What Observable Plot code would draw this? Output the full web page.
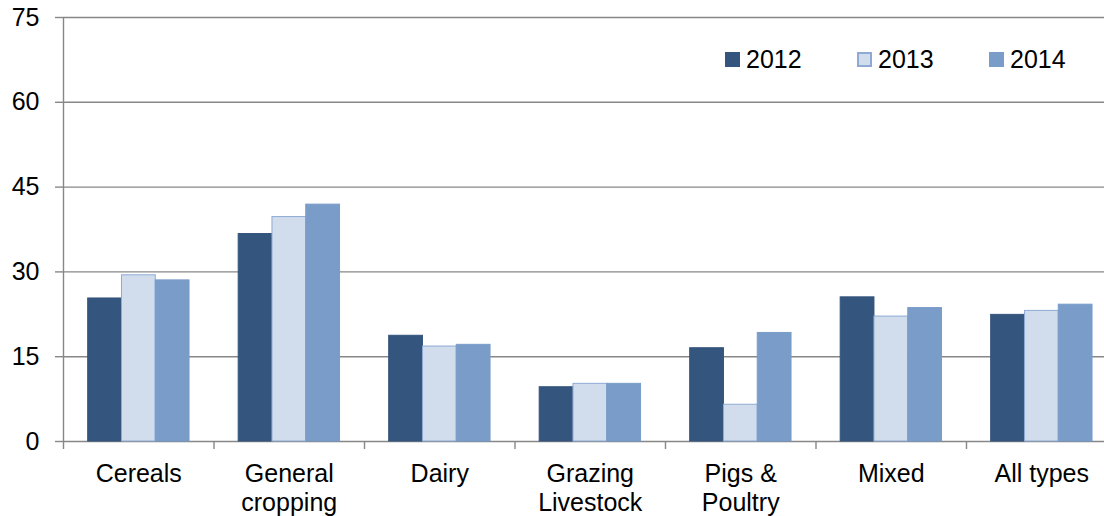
<!DOCTYPE html>
<html>
<head>
<meta charset="utf-8">
<script src="https://cdn.jsdelivr.net/npm/d3@7"></script>
<script src="https://cdn.jsdelivr.net/npm/@observablehq/plot@0.6"></script>
<style>
  body { margin: 0; background: #fff; font-family: "Liberation Sans", Arial, sans-serif; }
  #wrap { position: relative; width: 1104px; height: 516px; }
  #legend { position: absolute; top: 45px; left: 725px; display: flex; font-size: 25px; color: #000; }
  .item { display: flex; align-items: center; width: 132px; }
  .sw { width: 15px; height: 15px; margin-right: 6px; box-sizing: border-box; }
</style>
</head>
<body>
<div id="wrap"><div id="legend"></div></div>
<script>
// categories and values
const categories = ["Cereals", "General\ncropping", "Dairy", "Grazing\nLivestock", "Pigs &\nPoultry", "Mixed", "All types"];
const years = ["2012", "2013", "2014"];
const v2012 = [25.3, 36.7, 18.7, 9.6, 16.5, 25.5, 22.4];
const v2013 = [29.4, 39.7, 16.8, 10.2, 6.5, 22.1, 23.1];
const v2014 = [28.5, 41.9, 17.1, 10.2, 19.2, 23.6, 24.2];
const yTicks = [0, 15, 30, 45, 60, 75];

const series = [v2012, v2013, v2014];
const fills = ["#34557d", "#d1ddec", "#799cc9"];
const strokes = ["#34557d", "#8eaad4", "#799cc9"];
const grey = "#878787";

// bar layout inside each category band
const offset = 0.164, bw = 0.2245;

let rows = years.map((yr, j) =>
  categories.map((c, i) => ({i: i, j: j, year: yr, value: series[j][i]}))
);

let chart = Plot.plot({
  width: 1104,
  height: 516,
  marginTop: 17,
  marginBottom: 75,
  marginLeft: 63,
  marginRight: 0,
  style: {fontFamily: "Liberation Sans, Arial, sans-serif", fontSize: "25px", color: "#000"},
  x: {domain: [0, 6.917]},
  y: {domain: [0, 75], label: null},
  marks: [
    Plot.gridY(yTicks, {stroke: grey, strokeOpacity: 1, strokeWidth: 1.4}),
    ...rows.map((r, j) => Plot.rectY(r, {
      x1: d => d.i + offset + d.j * bw,
      x2: d => d.i + offset + (d.j + 1) * bw,
      y: "value",
      fill: fills[j],
      stroke: strokes[j],
      strokeWidth: 1
    })),
    Plot.ruleX([0], {stroke: grey, strokeWidth: 1.4}),
    Plot.axisY(yTicks, {label: null, tickSize: 8, tickPadding: 16, stroke: grey, strokeWidth: 1.4, fontSize: 25, fill: "#000"}),
    Plot.axisX(d3.range(0, 7), {label: null, tickSize: 8, tickFormat: () => "", stroke: grey, strokeWidth: 1.4}),
    Plot.axisX(d3.range(7).map(i => i + 0.5), {
      label: null, tickSize: 0, tickPadding: 20, fontSize: 25, fill: "#000", lineHeight: 1.16,
      tickFormat: d => categories[Math.floor(d)]
    })
  ]
});

document.getElementById("wrap").prepend(chart);

// legend drawn over the plot area, top right
const legend = d3.select("#legend");
years.forEach((yr, j) => {
  const it = legend.append("div").attr("class", "item");
  it.append("div").attr("class", "sw")
    .style("background", fills[j])
    .style("border", j === 1 ? "2px solid " + strokes[j] : "none");
  it.append("span").text(yr);
});
</script>
</body>
</html>
